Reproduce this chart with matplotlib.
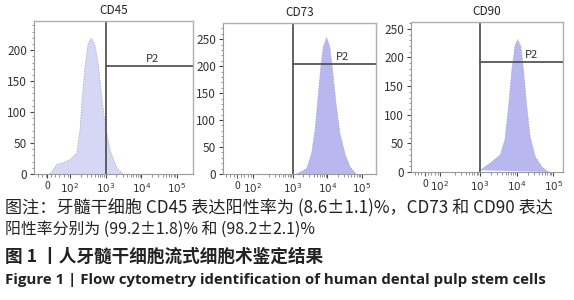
import numpy as np
import matplotlib
matplotlib.use("Agg")
import matplotlib.pyplot as plt

plt.rcParams['font.family'] = ['Noto Sans CJK SC', 'DejaVu Sans']

titles = ["CD45", "CD73", "CD90"]

# histogram outlines: x in decades (log10 units on a biexponential display), y = count
cd45_x = [1.44, 1.63, 1.80, 2.00, 2.19, 2.28, 2.33, 2.37, 2.42, 2.51, 2.60, 2.70, 2.79, 2.89, 2.98, 3.12, 3.31, 3.48]
cd45_y = [0, 15, 18, 23, 34, 71, 114, 141, 173, 211, 219, 208, 179, 125, 82, 39, 10, 0]
cd73_x = [3.11, 3.40, 3.54, 3.64, 3.73, 3.80, 3.88, 3.98, 4.07, 4.15, 4.25, 4.36, 4.51, 4.65, 4.80, 4.85]
cd73_y = [0, 10, 38, 81, 143, 193, 236, 253, 236, 193, 131, 76, 38, 14, 2, 0]
cd90_x = [3.00, 3.27, 3.55, 3.68, 3.78, 3.87, 3.96, 4.03, 4.12, 4.19, 4.28, 4.37, 4.51, 4.69, 4.87]
cd90_y = [3, 15, 30, 56, 114, 178, 222, 231, 219, 178, 114, 62, 27, 9, 0]

hist_x = [cd45_x, cd73_x, cd90_x]
hist_y = [cd45_y, cd73_y, cd90_y]
fills = ["#d6d6f5", "#b8b8ef", "#b8b8ef"]

# gate P2: vertical at 10^3, horizontal level
gate_x = [3.0, 3.0, 3.0]
gate_y = [174, 204, 192]

xlims = [(0.99, 5.45), (0.97, 5.41), (1.11, 5.27)]
ylims = [(0, 247), (0, 280), (0, 262)]
yticks = [[0, 50, 100, 150, 200], [0, 50, 100, 150, 200, 250], [0, 50, 100, 150, 200, 250]]
xtick_pos = [[1.36, 2.0, 3.0, 4.0, 5.0], [1.38, 1.84, 3.0, 4.0, 5.0], [1.49, 1.90, 3.0, 4.0, 5.0]]
xtick_labels = ["0", r"$10^{2}$", r"$10^{3}$", r"$10^{4}$", r"$10^{5}$"]
p2_x = [4.3, 4.45, 4.4]

captions = [
    "图注：牙髓干细胞 CD45 表达阳性率为 (8.6±1.1)%，CD73 和 CD90 表达",
    "阳性率分别为 (99.2±1.8)% 和 (98.2±2.1)%",
    "图 1 丨人牙髓干细胞流式细胞术鉴定结果",
    "Figure 1 | Flow cytometry identification of human dental pulp stem cells",
]

fig = plt.figure(figsize=(5.74, 3.0), dpi=100)
rects = [[34/574, 126/300, 159/574, 153/300],
         [223/574, 126/300, 153/574, 151/300],
         [411/574, 128/300, 152/574, 150/300]]

for i in range(3):
    ax = fig.add_axes(rects[i])
    ax.fill(list(hist_x[i]), list(hist_y[i]), color=fills[i], linewidth=0)
    ax.plot(hist_x[i], hist_y[i], color="#9c9cd6", lw=0.5, ls=(0, (2, 2)))
    ax.set_xlim(*xlims[i])
    ax.set_ylim(*ylims[i])
    ax.axvline(gate_x[i], color="#555555", lw=1.3)
    ax.plot([gate_x[i], xlims[i][1]], [gate_y[i], gate_y[i]], color="#555555", lw=1.3)
    ax.text(p2_x[i], gate_y[i] + 4, "P2", fontsize=8, ha="center", va="bottom", color="#333333")
    ax.set_title(titles[i], fontsize=8.5, pad=5, color="#222222")
    ax.set_yticks(yticks[i])
    ax.set_yticklabels([str(v) for v in yticks[i]], fontsize=8.5, color="#333333")
    ax.set_yticks(np.arange(0, ylims[i][1], 10), minor=True)
    ax.set_xticks(xtick_pos[i])
    ax.set_xticklabels(xtick_labels, fontsize=7.5, color="#333333")
    minors = []
    for dec in [2, 3, 4]:
        for k in range(2, 10):
            minors.append(dec + np.log10(k))
    minors += list(np.linspace(xlims[i][0] + 0.1, xtick_pos[i][1] - 0.05, 8))
    ax.set_xticks(minors, minor=True)
    ax.tick_params(axis="both", which="major", length=3, width=0.8, color="#444444", pad=2)
    ax.tick_params(axis="both", which="minor", length=1.8, width=0.5, color="#666666")
    for s in ["top", "right"]:
        ax.spines[s].set_color("#b0b0b0")
        ax.spines[s].set_linewidth(1.0)
    for s in ["left", "bottom"]:
        ax.spines[s].set_color("#999999")
        ax.spines[s].set_linewidth(0.8)

cap_color = "#222222"
fig.text(5/574, 1 - 208/300, captions[0], fontsize=12.3, va="center", ha="left", color=cap_color)
fig.text(5/574, 1 - 229/300, captions[1], fontsize=11.4, va="center", ha="left", color=cap_color)
fig.text(5/574, 1 - 257/300, captions[2], fontsize=12.7, va="center", ha="left",
         color=cap_color, fontweight="bold")
fig.text(5/574, 1 - 280/300, captions[3], fontsize=10.8, va="center", ha="left",
         color=cap_color, fontweight="bold", family=["Open Sans", "DejaVu Sans"])

fig.savefig("out.png", dpi=100)
